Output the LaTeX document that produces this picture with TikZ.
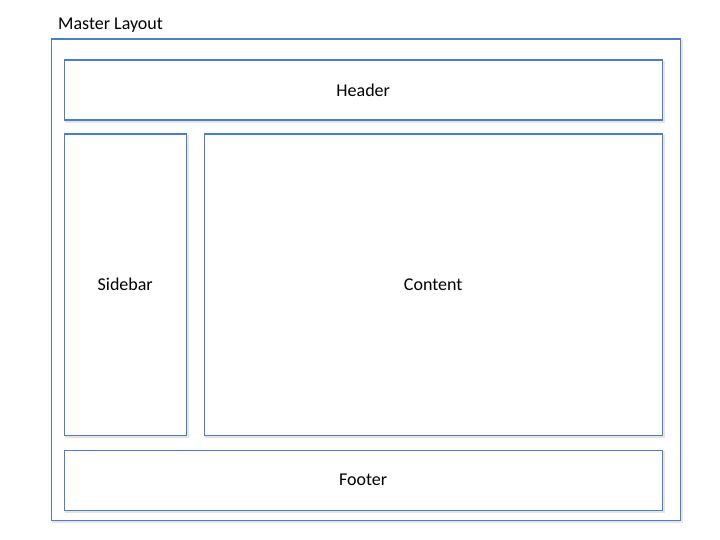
\documentclass[tikz,border=0pt]{standalone}
\usepackage{fontspec}
\setmainfont{Carlito}
\definecolor{boxblue}{HTML}{4A7EC8}
\begin{document}
\begin{tikzpicture}[
        x=1pt, y=-1pt,
        every node/.style={font=\fontsize{18}{21}\selectfont},
        layoutbox/.style={rectangle,draw=boxblue,line width=1.4pt,fill=white,anchor=north west,inner sep=0pt,
            preaction={draw=black!10,line width=2pt,transform canvas={shift={(1.5pt,-1.5pt)}}}},
        ]
        \useasboundingbox (0,0) rectangle (720,540);
        \node[layoutbox, minimum width=629pt, minimum height=481pt](master) at (50.5,38.5){};
        \node[anchor=south west, inner sep=0pt](master_label) at (58,33){Master Layout};

        \node[layoutbox, minimum width=598pt, minimum height=60pt](header) at (63.5,59.5){Header};
        \node[layoutbox, minimum width=122pt, minimum height=301pt](sidebar) at (63.5,133.5){Sidebar};
        \node[layoutbox, minimum width=458pt, minimum height=301pt](content) at (203.5,133.5){Content};
        \node[layoutbox, minimum width=598pt, minimum height=60pt](footer) at (63.5,449.5){Footer};
\end{tikzpicture}
\end{document}
